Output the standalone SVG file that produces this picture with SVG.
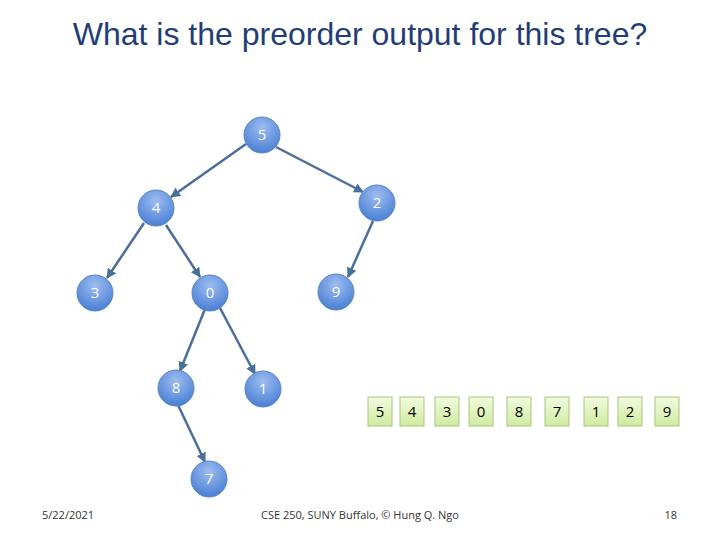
<svg xmlns="http://www.w3.org/2000/svg" width="720" height="540" viewBox="0 0 720 540">
<defs>
<radialGradient id="g" cx="0.5" cy="0.3" r="0.7"><stop offset="0" stop-color="#9dbdf0"/><stop offset="1" stop-color="#4a7fd4"/></radialGradient>
<linearGradient id="b" x1="0" y1="0" x2="0" y2="1"><stop offset="0" stop-color="#f2fadf"/><stop offset="1" stop-color="#cfeb9f"/></linearGradient>
<marker id="a" viewBox="0 0 10 10" refX="9" refY="5" markerWidth="4" markerHeight="4" orient="auto"><path d="M0,0L10,5L0,10z" fill="#4a6f9c"/></marker>
<style>
.n circle{fill:url(#g);stroke:#5b86c0;stroke-width:1}
.n text{fill:#fff;font-family:"Open Sans","Liberation Sans",sans-serif;font-size:15px;text-anchor:middle}
.c line{stroke:#4a6f9c;stroke-width:2.5;marker-end:url(#a)}
.bx rect{fill:url(#b);stroke:#a6c77a;stroke-width:1}
.bx text{fill:#000;font-family:"Open Sans","Liberation Sans",sans-serif;font-size:15px;text-anchor:middle}
.f{font-family:"Open Sans","Liberation Sans",sans-serif;font-size:11px;fill:#333}
</style>
</defs>
<rect width="720" height="540" fill="#fff"/>
<text x="360" y="45" font-family="Liberation Sans,Arial,sans-serif" font-size="32" fill="#1f3d78" stroke="#fff" stroke-width="0" text-anchor="middle" style="text-shadow:none">What is the preorder output for this tree?</text>
<g class="c">
<line x1="246" y1="144" x2="171" y2="197"/>
<line x1="276" y1="147" x2="363" y2="192"/>
<line x1="144" y1="223" x2="107" y2="278"/>
<line x1="166" y1="225" x2="200" y2="277"/>
<line x1="373" y1="221" x2="348" y2="277"/>
<line x1="205" y1="309" x2="180" y2="371"/>
<line x1="220" y1="308" x2="255" y2="374"/>
<line x1="178" y1="405" x2="205" y2="462"/>
</g>
<g class="n" id="n5"><circle cx="262" cy="135" r="18"/><text x="262" y="140">5</text></g>
<g class="n" id="n4"><circle cx="156" cy="208" r="18"/><text x="156" y="213">4</text></g>
<g class="n" id="n2"><circle cx="377" cy="203" r="18"/><text x="377" y="208">2</text></g>
<g class="n" id="n3"><circle cx="95" cy="293" r="18"/><text x="95" y="298">3</text></g>
<g class="n" id="n0"><circle cx="210" cy="293" r="18"/><text x="210" y="298">0</text></g>
<g class="n" id="n9"><circle cx="336" cy="292" r="18"/><text x="336" y="297">9</text></g>
<g class="n" id="n8"><circle cx="176" cy="388" r="18"/><text x="176" y="393">8</text></g>
<g class="n" id="n1"><circle cx="263" cy="389" r="18"/><text x="263" y="394">1</text></g>
<g class="n" id="n7"><circle cx="209" cy="479" r="18"/><text x="209" y="484">7</text></g>
<g class="bx" id="out">
<rect x="368" y="397" width="24" height="29"/><text x="380" y="417">5</text>
<rect x="400" y="397" width="24" height="29"/><text x="412" y="417">4</text>
<rect x="435" y="397" width="24" height="29"/><text x="447" y="417">3</text>
<rect x="469" y="397" width="24" height="29"/><text x="481" y="417">0</text>
<rect x="507" y="397" width="24" height="29"/><text x="519" y="417">8</text>
<rect x="545" y="397" width="24" height="29"/><text x="557" y="417">7</text>
<rect x="584" y="397" width="24" height="29"/><text x="596" y="417">1</text>
<rect x="618" y="397" width="24" height="29"/><text x="630" y="417">2</text>
<rect x="655" y="397" width="24" height="29"/><text x="667" y="417">9</text>
</g>
<text class="f" x="42" y="519">5/22/2021</text>
<text class="f" x="360" y="519" text-anchor="middle">CSE 250,  SUNY Buffalo, © Hung Q. Ngo</text>
<text class="f" x="677" y="519" text-anchor="end">18</text>
</svg>
